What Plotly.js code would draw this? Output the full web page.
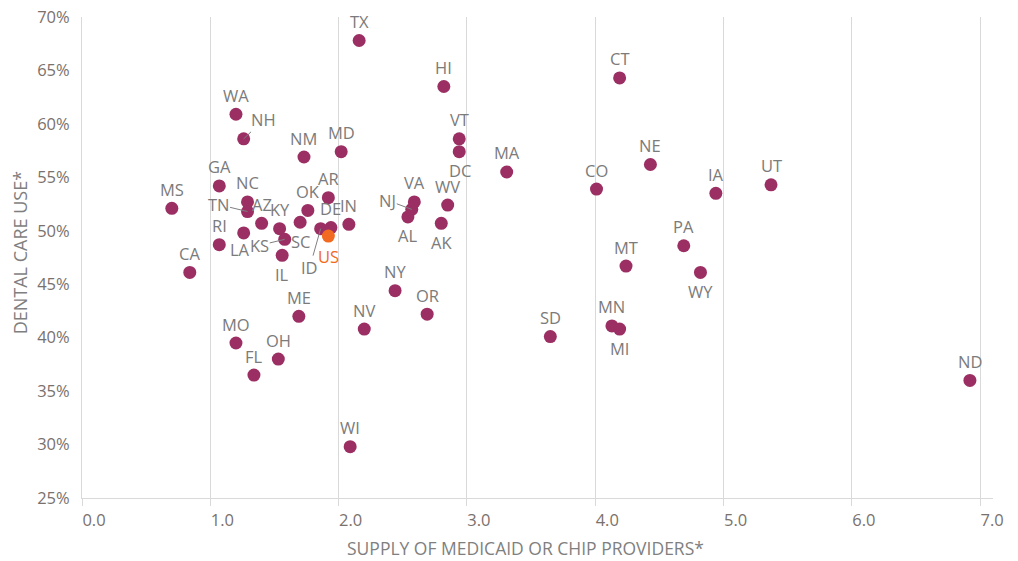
<!DOCTYPE html>
<html>
<head>
<meta charset="utf-8">
<script src="https://cdn.plot.ly/plotly-3.0.1.min.js"></script>
<style>html,body{margin:0;padding:0;background:#fff;}#chart{width:1018px;height:561px;}</style>
</head>
<body>
<div id="chart"></div>
<script>
// ---- Data ----
const states = ["TX","HI","CT","NE","CO","IA","UT","MA","VT","DC","WV","AK","VA","NJ","AL","IN","GA","MS","NC","TN","AZ","KY","LA","RI","KS","SC","IL","OK","AR","DE","ID","CA","WA","NH","NM","MD","ME","MO","OH","FL","NV","WI","NY","OR","SD","PA","MT","WY","MN","MI","ND"];
const supply = [2.16,2.82,4.19,4.43,4.01,4.94,5.37,3.31,2.94,2.94,2.85,2.80,2.59,2.57,2.54,2.08,1.07,0.70,1.29,1.29,1.40,1.54,1.26,1.07,1.58,1.70,1.56,1.76,1.92,1.94,1.86,0.84,1.20,1.26,1.73,2.02,1.69,1.20,1.53,1.34,2.20,2.09,2.44,2.69,3.65,4.69,4.24,4.82,4.13,4.19,6.92];
const dentalUse = [67.8,63.5,64.3,56.2,53.9,53.5,54.3,55.5,58.6,57.4,52.4,50.7,52.7,52.0,51.3,50.6,54.2,52.1,52.7,51.8,50.7,50.2,49.8,48.7,49.2,50.8,47.7,51.9,53.1,50.3,50.2,46.1,60.9,58.6,56.9,57.4,42.0,39.5,38.0,36.5,40.8,29.8,44.4,42.2,40.1,48.6,46.7,46.1,41.1,40.8,36.0];
const usLabel = ["US"];
const usSupply = [1.92];
const usDentalUse = [49.5];
const xTickVals = [0,1,2,3,4,5,6,7];
const xTickText = ["0.0","1.0","2.0","3.0","4.0","5.0","6.0","7.0"];
const yTickVals = [25,30,35,40,45,50,55,60,65,70];
const yTickText = ["25%","30%","35%","40%","45%","50%","55%","60%","65%","70%"];
const xTitle = "SUPPLY OF MEDICAID OR CHIP PROVIDERS*";
const yTitle = "DENTAL CARE USE*";

// ---- Label placement (pixels; dy positive = up) ----
const ABOVE = [0, 19], BELOW = [0, -19];
const labelPos = {
  DC: [1, -19], AK: BELOW, AL: BELOW, SC: BELOW, IL: BELOW, WY: BELOW, MI: BELOW,
  LA: [-4, -17],
  NJ: [-24, 9, true], TN: [-29, 7, true], KS: [-25, -6, true], ID: [-11, -39, true], NH: [20, 19, true]
};

const plum = "#9B2F64", orange = "#F26A21";
const labelFont = {family: "Open Sans", size: 16.5, color: "#7b7b7b"};
const tickFont = {family: "Open Sans", size: 16.5, color: "#7a716c"};
const xTitleFont = {family: "Open Sans", size: 17.5, color: "#7f7f7f"};
const yTitleFont = {family: "Open Sans", size: 18, color: "#7f7f7f"};

const annotations = [];
states.forEach((s, i) => {
  const p = labelPos[s] || ABOVE;
  if (p[2]) {
    annotations.push({x: supply[i], y: dentalUse[i], xref: "x", yref: "y", text: s,
      showarrow: true, arrowhead: 0, arrowwidth: 1, arrowcolor: "#7f7f7f",
      ax: p[0], ay: -p[1], standoff: 0, borderpad: 0, font: labelFont});
  } else {
    annotations.push({x: supply[i], y: dentalUse[i], xref: "x", yref: "y", text: s,
      showarrow: false, xshift: p[0], yshift: p[1], font: labelFont});
  }
});
annotations.push({x: usSupply[0], y: usDentalUse[0], xref: "x", yref: "y", text: usLabel[0],
  showarrow: false, yshift: -20, font: {family: "Open Sans", size: 16.5, color: orange}});
// axis titles
annotations.push({xref: "paper", yref: "paper", x: 0.487, y: -0.103, text: xTitle,
  showarrow: false, xanchor: "center", yanchor: "middle", borderpad: 0, font: xTitleFont});
annotations.push({xref: "paper", yref: "paper", x: -0.0685, y: 0.51, text: yTitle, textangle: -90,
  showarrow: false, xanchor: "center", yanchor: "middle", borderpad: 0, font: yTitleFont});

const traces = [
  {type: "scatter", mode: "markers", x: supply, y: dentalUse, text: states,
   marker: {color: plum, size: 13}, hoverinfo: "text+x+y"},
  {type: "scatter", mode: "markers", x: usSupply, y: usDentalUse, text: usLabel,
   marker: {color: orange, size: 13}, hoverinfo: "text+x+y"}
];

const layout = {
  width: 1018, height: 561,
  margin: {l: 82, r: 25, t: 17, b: 63},
  paper_bgcolor: "#ffffff", plot_bgcolor: "#ffffff",
  showlegend: false,
  font: {family: "Open Sans", color: "#7a716c"},
  xaxis: {
    range: [0, 7.1], tickvals: xTickVals, ticktext: xTickText,
    showgrid: true, gridcolor: "#d9d9d9", gridwidth: 1, zeroline: false,
    showline: true, linecolor: "#d9d9d9", linewidth: 1,
    ticks: "outside", ticklen: 7, tickcolor: "#d9d9d9", ticklabelshift: 12,
    tickfont: tickFont
  },
  yaxis: {
    range: [25, 70], tickvals: yTickVals, ticktext: yTickText,
    showgrid: false, zeroline: false,
    showline: true, linecolor: "#d9d9d9", linewidth: 1,
    ticks: "", ticklabelstandoff: 8,
    tickfont: tickFont
  },
  annotations: annotations
};

Plotly.newPlot("chart", traces, layout, {displayModeBar: false, staticPlot: true});
</script>
</body>
</html>
